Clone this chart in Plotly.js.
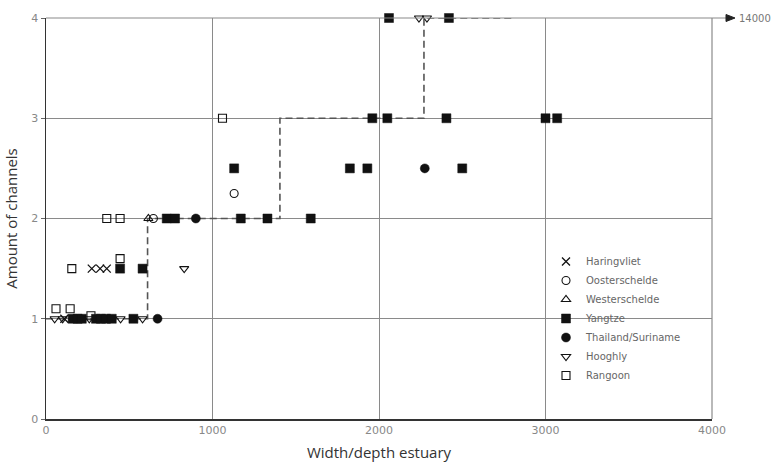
<!DOCTYPE html>
<html>
<head>
<meta charset="utf-8">
<script src="https://cdn.plot.ly/plotly-3.0.1.min.js"></script>
<style>html,body{margin:0;padding:0;background:#fff;}#chart{width:775px;height:464px;}</style>
</head>
<body>
<div id="chart"></div>
<script>
// Data (x = width/depth ratio, y = amount of channels)
const haringvlietX = [110, 275, 325, 365];
const haringvlietY = [1, 1.5, 1.5, 1.5];
const oosterscheldeX = [645, 1130];
const oosterscheldeY = [2, 2.25];
const westerscheldeX = [615];
const westerscheldeY = [2];
const yangtzeX = [160, 190, 215, 300, 330, 360, 395, 525, 445, 580, 725, 775, 1170, 1330, 1590, 1130, 1825, 1930, 2500, 1960, 2050, 2405, 3000, 3070, 2060, 2420];
const yangtzeY = [1, 1, 1, 1, 1, 1, 1, 1, 1.5, 1.5, 2, 2, 2, 2, 2, 2.5, 2.5, 2.5, 2.5, 3, 3, 3, 3, 3, 4, 4];
const thailandX = [670, 900, 2275];
const thailandY = [1, 2, 2.5];
const hooghlyX = [52, 100, 260, 448, 580, 830, 2240, 2288];
const hooghlyY = [1, 1, 1, 1, 1, 1.5, 4, 4];
const rangoonX = [60, 145, 155, 270, 365, 445, 445, 1060];
const rangoonY = [1.1, 1.1, 1.5, 1.03, 2, 2, 1.6, 3];
const stepX = [0, 610, 1405, 2270, 2800];
const stepY = [1, 2, 3, 4, 4];
const xTicks = [0, 1000, 2000, 3000, 4000];
const yTicks = [0, 1, 2, 3, 4];

const ink = '#111';
function series(name, x, y, symbol, size, lw) {
  return {
    type: 'scatter', mode: 'markers', name: name, x: x, y: y,
    legendgroup: name,
    marker: {symbol: symbol, size: size, color: ink, line: {color: ink, width: lw}},
    cliponaxis: false
  };
}

const traces = [
  {type: 'scatter', mode: 'lines', x: stepX, y: stepY, showlegend: false,
   line: {shape: 'hv', dash: '7px,4px', color: '#555', width: 1.6}, hoverinfo: 'skip'},
  series('Haringvliet', haringvlietX, haringvlietY, 'x-thin-open', 8, 1.3),
  series('Oosterschelde', oosterscheldeX, oosterscheldeY, 'circle-open', 8, 1.1),
  series('Westerschelde', westerscheldeX, westerscheldeY, 'triangle-up-open', 8, 1.1),
  series('Yangtze', yangtzeX, yangtzeY, 'square', 9, 0.5),
  series('Thailand/Suriname', thailandX, thailandY, 'circle', 9, 0.5),
  series('Hooghly', hooghlyX, hooghlyY, 'triangle-down-open', 8, 1.1),
  series('Rangoon', rangoonX, rangoonY, 'square-open', 8, 1.1)
];

const L = 46, R = 712, T = 18, B = 419;
const pw = R - L, ph = B - T;
function px(p) { return (p - L) / pw; }
function py(p) { return (B - p) / ph; }

const layout = {
  width: 775, height: 464,
  margin: {l: L, r: 775 - R, t: T, b: 464 - B},
  paper_bgcolor: '#fff', plot_bgcolor: '#fff',
  showlegend: true,
  legend: {
    x: px(546), y: py(247), xanchor: 'left', yanchor: 'top',
    bgcolor: 'rgba(0,0,0,0)', borderwidth: 0,
    traceorder: 'grouped', tracegroupgap: 0, itemwidth: 30,
    font: {family: 'DejaVu Sans', size: 10, color: '#666'}
  },
  xaxis: {
    range: [0, 4000], tickvals: xTicks, ticktext: xTicks.map(String),
    showgrid: true, gridcolor: '#8a8a8a', gridwidth: 1,
    zeroline: false, showline: true, linecolor: '#333', linewidth: 1.5,
    ticks: '', tickfont: {family: 'DejaVu Sans', size: 11, color: '#888'},
    title: {text: 'Width/depth estuary', standoff: 12,
            font: {family: 'Open Sans', size: 15, color: '#333'}},
    fixedrange: true
  },
  yaxis: {
    range: [0, 4], tickvals: yTicks, ticktext: yTicks.map(String),
    showgrid: true, gridcolor: '#8a8a8a', gridwidth: 1,
    zeroline: false, showline: true, linecolor: '#333', linewidth: 1.5,
    ticks: 'outside', ticklen: 4, tickcolor: '#666',
    tickfont: {family: 'DejaVu Sans', size: 11, color: '#888'},
    title: {text: 'Amount of channels', standoff: 10,
            font: {family: 'Open Sans', size: 15, color: '#333'}},
    fixedrange: true
  },
  shapes: [
    {type: 'line', xref: 'paper', yref: 'paper', x0: 1, x1: 1, y0: 0, y1: 1,
     line: {color: '#8a8a8a', width: 1.2}},
    {type: 'line', xref: 'paper', yref: 'paper', x0: 0, x1: px(728), y0: 1, y1: 1,
     line: {color: '#8a8a8a', width: 1.2}},
    {type: 'path', xref: 'paper', yref: 'paper',
     path: 'M ' + px(726) + ' ' + py(14.5) + ' L ' + px(735) + ' ' + py(18) + ' L ' + px(726) + ' ' + py(21.5) + ' Z',
     fillcolor: '#222', line: {color: '#222', width: 1}}
  ],
  annotations: [
    {xref: 'paper', yref: 'paper', x: px(737), y: py(18), xanchor: 'left', yanchor: 'middle',
     text: '14000', showarrow: false, font: {family: 'DejaVu Sans', size: 10, color: '#777'}}
  ]
};

Plotly.newPlot('chart', traces, layout, {displayModeBar: false, staticPlot: true});
</script>
</body>
</html>
